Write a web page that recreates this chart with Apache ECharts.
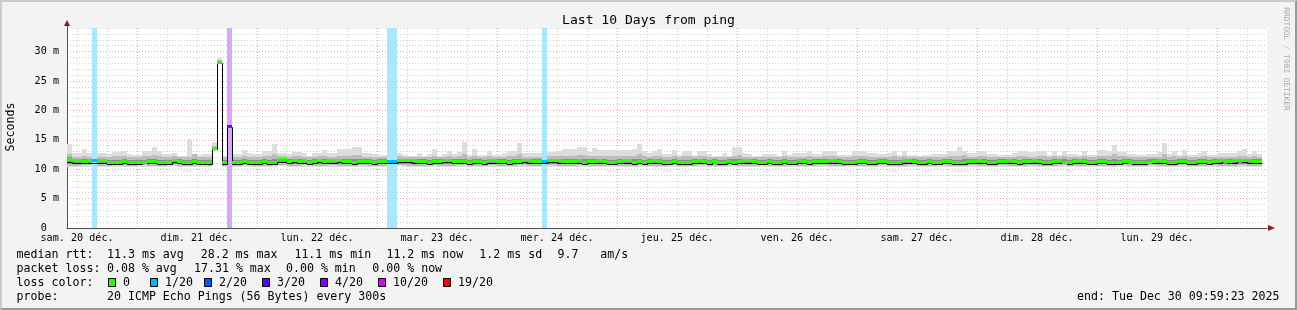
<!DOCTYPE html>
<html><head><meta charset="utf-8">
<script src="https://cdn.jsdelivr.net/npm/echarts@6/dist/echarts.min.js"></script>
<style>
html,body{margin:0;padding:0;background:#f3f3f3;}
#chart{position:absolute;left:0;top:0;width:1297px;height:310px;}
#frame{position:absolute;left:0;top:0;width:1297px;height:310px;box-sizing:border-box;border-style:solid;border-width:2px;border-color:#cbcbcb #999999 #999999 #cbcbcb;pointer-events:none;}
</style></head>
<body><div id="chart"></div><div id="frame"></div>
<script>
// ---- time axis (hours since sam. 20 déc. 00:00) ----
const axisStartHour = 9.99;   // 09:59:23
const axisEndHour = 249.99;   // Tue Dec 30 09:59:23
const firstStepHour = 10;     // first 1-hour consolidated step
const dayLabels = ['sam. 20 déc.','dim. 21 déc.','lun. 22 déc.','mar. 23 déc.','mer. 24 déc.','jeu. 25 déc.','ven. 26 déc.','sam. 27 déc.','dim. 28 déc.','lun. 29 déc.'];
const dayLabelHours = [12,36,60,84,108,132,156,180,204,228];
const gridHours = [12,18,24,30,36,42,48,54,60,66,72,78,84,90,96,102,108,114,120,126,132,138,144,150,156,162,168,174,180,186,192,198,204,210,216,222,228,234,240,246];
const yMaxMs = 34;

// ---- values, in tenths of a millisecond, one per hour step ----
const smokeHi = [
142,128,128,135,128,127,127,127,126,130,
130,131,126,124,124,131,131,138,131,126,
126,127,123,123,151,124,124,126,126,147,
289,123,180,126,126,132,128,126,126,131,
131,142,127,127,126,129,129,128,122,128,
128,132,128,128,134,134,135,137,138,127,
127,126,124,124,126,126,127,124,122,123,
127,123,126,134,123,126,131,126,129,147,
124,134,124,124,131,124,124,128,131,131,
145,128,128,128,128,128,129,129,131,134,
134,134,138,138,129,136,132,132,132,132,
132,132,132,135,142,131,128,131,135,126,
126,133,124,131,131,124,131,131,126,123,
123,127,123,137,137,128,126,123,123,126,
126,126,123,131,124,128,128,128,131,126,
126,131,131,131,124,124,124,131,131,131,
127,128,126,126,128,131,124,131,124,124,
123,124,124,126,126,126,131,131,137,131,
128,128,131,131,126,126,124,124,124,127,
131,131,129,129,131,131,124,131,124,131,
126,126,124,131,124,124,133,133,131,141,
130,130,126,126,124,124,126,126,129,145,
126,131,124,133,124,124,128,131,124,124,
128,128,128,128,131,135,126,131,126];
const smokeLo = [
104,104,103,104,104,104,104,103,103,104,
104,103,103,104,104,103,103,104,104,104,
104,105,104,104,104,103,104,104,104,131,
279,104,168,104,103,104,104,104,103,103,
104,104,105,105,104,104,104,104,104,103,
104,104,103,103,104,104,104,104,104,103,
104,104,104,103,104,104,105,104,104,104,
103,104,104,104,104,104,104,103,103,104,
104,104,104,104,104,104,104,103,103,104,
103,104,104,104,104,104,104,104,104,104,
104,104,104,104,103,103,104,104,104,104,
104,104,104,104,104,104,104,104,104,104,
104,103,104,104,104,104,104,104,104,104,
104,104,104,104,104,104,103,104,104,104,
104,104,104,103,104,104,104,104,104,104,
104,104,104,104,104,104,104,103,104,104,
104,104,104,104,104,104,104,104,103,104,
104,104,104,104,104,103,104,104,104,104,
104,104,104,104,104,104,104,104,104,103,
103,104,104,104,104,104,104,104,104,104,
104,104,104,104,104,104,104,104,104,104,
104,103,104,103,104,104,104,104,104,104,
103,104,104,104,104,104,104,104,104,104,
104,104,104,104,104,104,104,104,104];
const midHi = [
125,121,121,123,121,121,121,121,120,122,
122,122,120,120,120,122,122,124,122,120,
120,122,120,120,120,126,120,120,120,140,
286,120,176,120,121,122,121,121,121,122,
122,125,122,122,121,122,122,121,120,121,
122,122,121,121,123,123,123,124,124,121,
121,120,120,120,121,121,122,121,120,120,
121,120,121,123,120,121,122,121,122,126,
120,123,120,120,122,120,120,121,122,122,
125,121,121,121,121,121,122,122,122,122,
123,123,124,124,122,123,122,122,122,122,
122,122,122,123,125,122,121,122,123,121,
121,123,120,122,122,120,122,122,121,120,
120,121,120,123,124,121,121,120,120,121,
121,121,120,122,120,121,121,121,122,121,
121,122,122,122,120,120,120,122,122,122,
121,121,121,121,121,122,120,122,120,120,
120,120,120,121,121,121,122,122,123,124,
121,121,122,122,121,121,120,120,120,121,
122,122,121,121,122,122,120,122,120,122,
121,121,120,122,120,120,123,123,122,125,
122,122,121,121,120,120,121,121,121,126,
121,122,120,123,120,120,121,122,120,120,
121,121,121,121,122,123,121,122,121];
const midLo = [
106,106,106,107,107,106,106,106,106,107,
107,106,106,106,107,107,106,106,106,106,
107,107,106,106,106,106,107,107,106,132,
280,106,169,106,106,107,107,106,106,106,
106,107,107,107,106,106,106,107,107,106,
106,106,107,107,106,106,106,106,107,107,
106,106,106,106,106,106,107,107,106,106,
106,106,107,107,106,106,106,106,107,107,
106,106,106,106,107,107,106,106,106,106,
107,107,106,106,106,106,107,107,106,106,
106,106,107,107,106,106,106,106,107,107,
106,106,106,106,107,107,106,106,106,106,
107,107,106,106,106,106,107,107,106,106,
106,106,107,107,106,106,106,106,107,107,
106,106,106,106,107,107,106,106,106,106,
107,107,106,106,106,106,107,107,106,106,
106,106,107,107,106,106,106,106,107,107,
106,106,106,106,107,107,106,106,106,106,
107,107,106,106,106,106,107,107,106,106,
106,106,107,107,106,106,106,106,107,107,
106,106,106,106,107,107,106,106,106,106,
107,107,106,106,106,106,107,107,106,106,
106,106,107,107,106,106,106,106,107,107,
106,106,106,106,107,107,106,106,106];
const coreHi = [
120,117,117,117,117,117,117,117,116,116,
116,117,116,116,116,116,117,117,116,116,
116,118,117,116,116,117,116,116,116,137,
284,116,174,116,116,117,116,116,116,117,
116,117,119,119,117,118,117,117,116,117,
118,117,117,117,118,117,117,117,117,117,
117,116,117,117,117,117,118,118,118,117,
117,117,116,117,117,118,118,117,117,118,
116,117,117,116,117,117,117,117,116,117,
118,118,117,117,117,117,118,118,117,117,
117,117,118,117,117,117,117,117,116,116,
117,117,117,117,118,116,117,117,117,116,
116,117,116,116,116,117,117,117,116,117,
116,116,117,117,117,117,117,117,116,116,
117,116,116,117,116,116,117,117,116,117,
117,117,117,117,117,116,116,116,117,117,
116,116,117,117,116,116,116,117,117,117,
116,116,117,116,116,117,117,116,116,117,
117,117,117,117,116,116,117,117,117,117,
116,117,117,117,117,116,116,117,117,117,
116,117,117,117,116,116,117,117,116,117,
116,117,117,116,116,116,117,117,117,117,
116,116,117,117,116,116,117,117,116,117,
117,118,117,117,118,118,117,117,117];
const coreLo = [
109,108,108,108,109,109,108,108,108,108,
108,108,108,108,108,108,109,109,108,108,
108,109,108,108,108,108,108,108,108,133,
281,108,170,108,108,108,108,108,108,108,
108,108,110,110,108,109,108,109,108,108,
109,108,109,109,109,108,108,108,108,108,
108,108,108,108,108,108,109,109,109,108,
108,108,108,108,108,109,109,108,108,108,
108,108,108,108,108,108,108,108,108,108,
108,109,109,108,108,108,109,109,109,108,
108,108,109,108,108,108,109,108,108,108,
108,109,109,108,108,108,108,109,108,108,
108,108,108,108,108,108,109,108,108,108,
108,108,108,108,108,109,109,108,108,108,
108,108,108,108,108,108,109,108,108,108,
108,108,109,109,108,108,108,108,108,108,
108,108,108,108,108,108,108,109,109,108,
108,108,108,108,108,108,108,108,108,108,
108,108,109,108,108,108,108,108,109,108,
108,108,108,109,108,108,108,108,109,108,
108,108,109,108,108,108,108,108,108,108,
108,108,108,108,108,108,108,108,109,108,
108,108,108,108,108,108,108,108,108,108,
109,109,108,109,109,109,109,108,108];
const medianRtt = [
117,114,114,113,114,114,114,114,112,112,
112,113,112,112,112,112,113,113,112,112,
112,115,113,112,112,113,112,112,112,135,
282,112,172,112,112,113,112,112,112,113,
112,112,116,116,113,115,113,114,112,113,
115,113,114,114,115,113,113,112,113,113,
113,112,113,113,113,113,115,115,115,114,
113,113,112,113,113,115,115,113,113,113,
112,113,113,112,114,114,113,113,112,113,
113,115,114,113,113,113,115,115,114,113,
113,113,114,112,113,113,114,113,112,112,
113,114,114,112,113,112,113,114,113,112,
112,113,112,112,112,113,114,113,112,113,
112,112,113,112,113,114,114,113,112,112,
113,112,112,113,112,112,114,113,112,113,
113,113,114,114,113,112,112,112,113,113,
112,112,113,113,112,112,112,114,114,113,
112,112,113,112,112,113,113,112,112,112,
113,113,114,113,112,112,113,113,114,113,
112,113,113,114,113,112,112,113,114,112,
112,113,114,113,112,112,113,113,112,112,
112,113,113,112,112,112,112,113,114,113,
112,112,113,113,112,112,113,113,112,113,
114,114,113,114,114,115,114,113,113];
const blackLine = [
113,110,110,110,111,111,110,110,109,109,
109,110,109,109,109,110,110,110,109,109,
109,112,110,109,109,110,109,109,109,134,
281,109,171,109,109,110,109,109,109,110,
109,109,113,113,110,112,110,111,109,110,
112,110,111,111,112,110,110,109,110,110,
110,109,110,110,110,110,112,112,112,111,
110,110,109,110,110,112,112,110,110,110,
109,110,110,109,111,111,110,110,109,110,
110,112,111,110,110,110,112,112,111,110,
110,110,111,109,110,110,111,110,109,109,
110,111,111,109,110,109,110,111,110,109,
109,110,109,109,109,110,111,110,109,114,
109,109,110,109,110,111,111,110,109,109,
110,109,109,110,109,109,111,110,109,110,
110,110,111,111,110,109,109,109,110,110,
109,109,110,110,109,109,109,111,111,110,
109,109,110,109,109,110,110,109,109,109,
110,110,111,110,109,109,110,110,111,110,
109,110,110,111,110,109,109,110,111,114,
109,110,111,110,109,109,110,110,109,109,
109,110,114,109,109,109,114,110,111,110,
109,109,110,110,109,109,110,110,109,110,
111,114,110,111,114,112,111,110,110];
// packet loss (pings lost out of 20) on the steps that had any
const lossStepIndex = [5, 32, 64, 65, 95];
const lossPings = [1, 3.46, 1, 1, 1];
// loss colour legend
const lossLegendLabels = ['0','1/20','2/20','3/20','4/20','10/20','19/20'];
const lossLegendLimits = [0, 1, 2, 3, 4, 10, 19];
const lossColors = ['#26ff00','#00b8ff','#0059ff','#5e00ff','#7e00ff','#dd00ff','#ff0000'];
const lossBandColors = ['#ffffff','#aae6ff','#aac4ff','#ceaaff','#d4aaff','#f4aaff','#ffaaaa'];
// legend texts
const statRow1 = [['median rtt:',16.6],['11.3 ms avg',107],['28.2 ms max',200.7],['11.1 ms min',294.4],['11.2 ms now',386.4],['1.2 ms sd',479.3],['9.7',557.6],['am/s',600.3]];
const statRow2 = [['packet loss:',16.6],['0.08 % avg',107],['17.31 % max',194],['0.00 % min',286],['0.00 % now',372.3]];
const probeRow = [['probe:',16.6],['20 ICMP Echo Pings (56 Bytes) every 300s',107]];
const endText = 'end: Tue Dec 30 09:59:23 2025';
const titleText = 'Last 10 Days from ping';

// ---------------------------------------------------------------
const mono = '"DejaVu Sans Mono", monospace';
const nSteps = medianRtt.length;
const lossAt = new Array(nSteps).fill(0);
lossStepIndex.forEach((s, k) => { lossAt[s] = lossPings[k]; });
function lossCat(l) { let c = 0; for (let k = 0; k < lossLegendLimits.length; k++) { if (l > (k ? lossLegendLimits[k-1] : -1) && l <= lossLegendLimits[k]) { c = k; break; } } if (l > 19) c = 6; return c; }

function smokeLayer(loArr, hiArr, color, z) {
  return {
    type: 'custom', z: z, silent: true, clip: true,
    encode: { x: 0, y: [1, 2] },
    data: loArr.map((v, i) => [firstStepHour + i, v / 10, hiArr[i] / 10]),
    renderItem: function (params, api) {
      const t = api.value(0);
      const a = api.coord([t, api.value(2)]);
      const b = api.coord([t + 1, api.value(1)]);
      const x0 = Math.round(a[0]), x1 = Math.round(b[0]);
      const y0 = Math.round(a[1]), y1 = Math.round(b[1]);
      return { type: 'rect', shape: { x: x0, y: y0, width: x1 - x0, height: Math.max(1, y1 - y0) }, style: { fill: color } };
    }
  };
}

const option = {
  animation: false,
  backgroundColor: '#f3f3f3',
  grid: { left: 67, top: 28, width: 1200, height: 200, show: true, backgroundColor: '#ffffff', borderWidth: 0, containLabel: false },
  xAxis: {
    type: 'value', min: axisStartHour, max: axisEndHour,
    axisLine: { show: true, lineStyle: { color: '#505050', width: 1 } },
    axisTick: { show: false },
    splitLine: { show: false },
    axisLabel: {
      customValues: dayLabelHours,
      formatter: v => { const k = dayLabelHours.indexOf(Math.round(v)); return k >= 0 ? dayLabels[k] : ''; },
      fontFamily: mono, fontSize: 10.15, color: '#000', margin: 5
    }
  },
  yAxis: {
    type: 'value', min: 0, max: yMaxMs, interval: 1,
    axisLine: { show: true, lineStyle: { color: '#505050', width: 1 } },
    axisTick: { show: false },
    axisLabel: {
      formatter: v => (v % 5 === 0 ? (v === 0 ? '0  ' : v + ' m') : ''),
      fontFamily: mono, fontSize: 10.15, color: '#000', margin: 8, padding: [3, 0, 0, 0]
    },
    splitLine: { show: true, lineStyle: { color: ['#f0a0a0', '#d0d0d0', '#d0d0d0', '#d0d0d0', '#d0d0d0'], type: [1, 2], width: 1 } }
  },
  series: [
    { // vertical time grid
      type: 'custom', z: 1, silent: true, clip: true,
      encode: { x: 0 },
      data: gridHours.map(h => [h]),
      renderItem: function (params, api) {
        const h = api.value(0);
        const top = api.coord([h, yMaxMs]), bot = api.coord([h, 0]);
        const x = Math.round(top[0]) + 0.5;
        return { type: 'line', shape: { x1: x, y1: top[1], x2: x, y2: bot[1] },
          style: { stroke: (h % 24 === 0) ? '#f0a0a0' : '#d0d0d0', lineWidth: 1, lineDash: [1, 2] } };
      }
    },
    smokeLayer(smokeLo, smokeHi, '#dddddd', 2),
    smokeLayer(midLo, midHi, '#bcbcbc', 3),
    smokeLayer(coreLo, coreHi, '#8c8c8c', 4),
    { // loss bars
      type: 'custom', z: 5, silent: true, clip: true,
      encode: { x: 0, y: 1 },
      data: lossStepIndex.map((s, k) => [firstStepHour + s, lossPings[k]]),
      renderItem: function (params, api) {
        const t = api.value(0);
        const a = api.coord([t, yMaxMs]), b = api.coord([t + 1, 0]);
        const x0 = Math.round(a[0]), x1 = Math.round(b[0]);
        return { type: 'rect', shape: { x: x0, y: a[1], width: x1 - x0, height: b[1] - a[1] },
          style: { fill: lossBandColors[lossCat(api.value(1))] } };
      }
    },
    { // black rtt step line, pixel-snapped
      type: 'custom', z: 6, silent: true, clip: true,
      encode: { x: 0, y: 1 },
      data: blackLine.map((v, i) => [firstStepHour + i, v / 10, (i ? blackLine[i - 1] : v) / 10]),
      renderItem: function (params, api) {
        const t = api.value(0);
        const a = api.coord([t, api.value(1)]), b = api.coord([t + 1, api.value(1)]), p = api.coord([t, api.value(2)]);
        const x0 = Math.round(a[0]) + 0.5, x1 = Math.round(b[0]) + 0.5;
        const y = Math.round(a[1]) + 0.5, yp = Math.round(p[1]) + 0.5;
        return { type: 'polyline', shape: { points: [[x0, yp], [x0, y], [x1, y]] },
          style: { stroke: '#000000', lineWidth: 1, fill: null } };
      }
    },
    { // median, coloured by loss
      type: 'custom', z: 7, silent: true, clip: true,
      encode: { x: 0, y: 1 },
      data: medianRtt.map((v, i) => [firstStepHour + i, v / 10, lossAt[i]]),
      renderItem: function (params, api) {
        const t = api.value(0);
        const a = api.coord([t, api.value(1)]), b = api.coord([t + 1, api.value(1)]);
        const x0 = Math.round(a[0]), x1 = Math.round(b[0]);
        return { type: 'rect', shape: { x: x0, y: Math.round(a[1] - 1.5), width: x1 - x0, height: 3 },
          style: { fill: lossColors[lossCat(api.value(2))] } };
      }
    }
  ],
  graphic: []
};

const G = option.graphic;
function txt(text, x, y, size, extra) {
  G.push(Object.assign({ type: 'text', x: x, y: y, z: 100, silent: true,
    style: Object.assign({ text: text, fontFamily: mono, fontSize: size, fill: '#000', align: 'left', verticalAlign: 'middle' }, (extra && extra.style) || {}) },
    extra ? { rotation: extra.rotation || 0 } : {}));
}
txt(titleText, 648.5, 20.5, 13.05, { style: { align: 'center' } });
txt('Seconds', 11, 127, 11.6, { rotation: Math.PI / 2, style: { align: 'center' } });
txt('RRDTOOL / TOBI OETIKER', 1286.5, 59, 7.8, { rotation: -Math.PI / 2, style: { align: 'center', fill: '#a8a8a8' } });
statRow1.forEach(p => txt(p[0], p[1], 255, 11.6));
statRow2.forEach(p => txt(p[0], p[1], 269, 11.6));
txt('loss color:', 16.6, 283, 11.6);
const swatchX = [108, 150, 204, 262, 320, 378, 443];
lossLegendLabels.forEach((l, k) => {
  G.push({ type: 'rect', z: 100, silent: true, shape: { x: swatchX[k] + 0.5, y: 278.5, width: 7, height: 8 }, style: { fill: lossColors[k], stroke: '#000', lineWidth: 1 } });
  txt(l, swatchX[k] + 15, 283, 11.6);
});
probeRow.forEach(p => txt(p[0], p[1], 297, 11.6));
txt(endText, 1279.5, 297, 11.6, { style: { align: 'right' } });
// axis arrows
G.push({ type: 'polygon', z: 100, silent: true, shape: { points: [[64, 26], [70, 26], [67, 20]] }, style: { fill: '#8b1c1c' } });
G.push({ type: 'polygon', z: 100, silent: true, shape: { points: [[1268, 225], [1268, 231], [1275, 228]] }, style: { fill: '#8b1c1c' } });
G.push({ type: 'line', z: 99, silent: true, shape: { x1: 67.5, y1: 26, x2: 67.5, y2: 28 }, style: { stroke: '#505050', lineWidth: 1 } });

const chart = echarts.init(document.getElementById('chart'), null, { renderer: 'canvas' });
chart.setOption(option);
</script></body></html>
